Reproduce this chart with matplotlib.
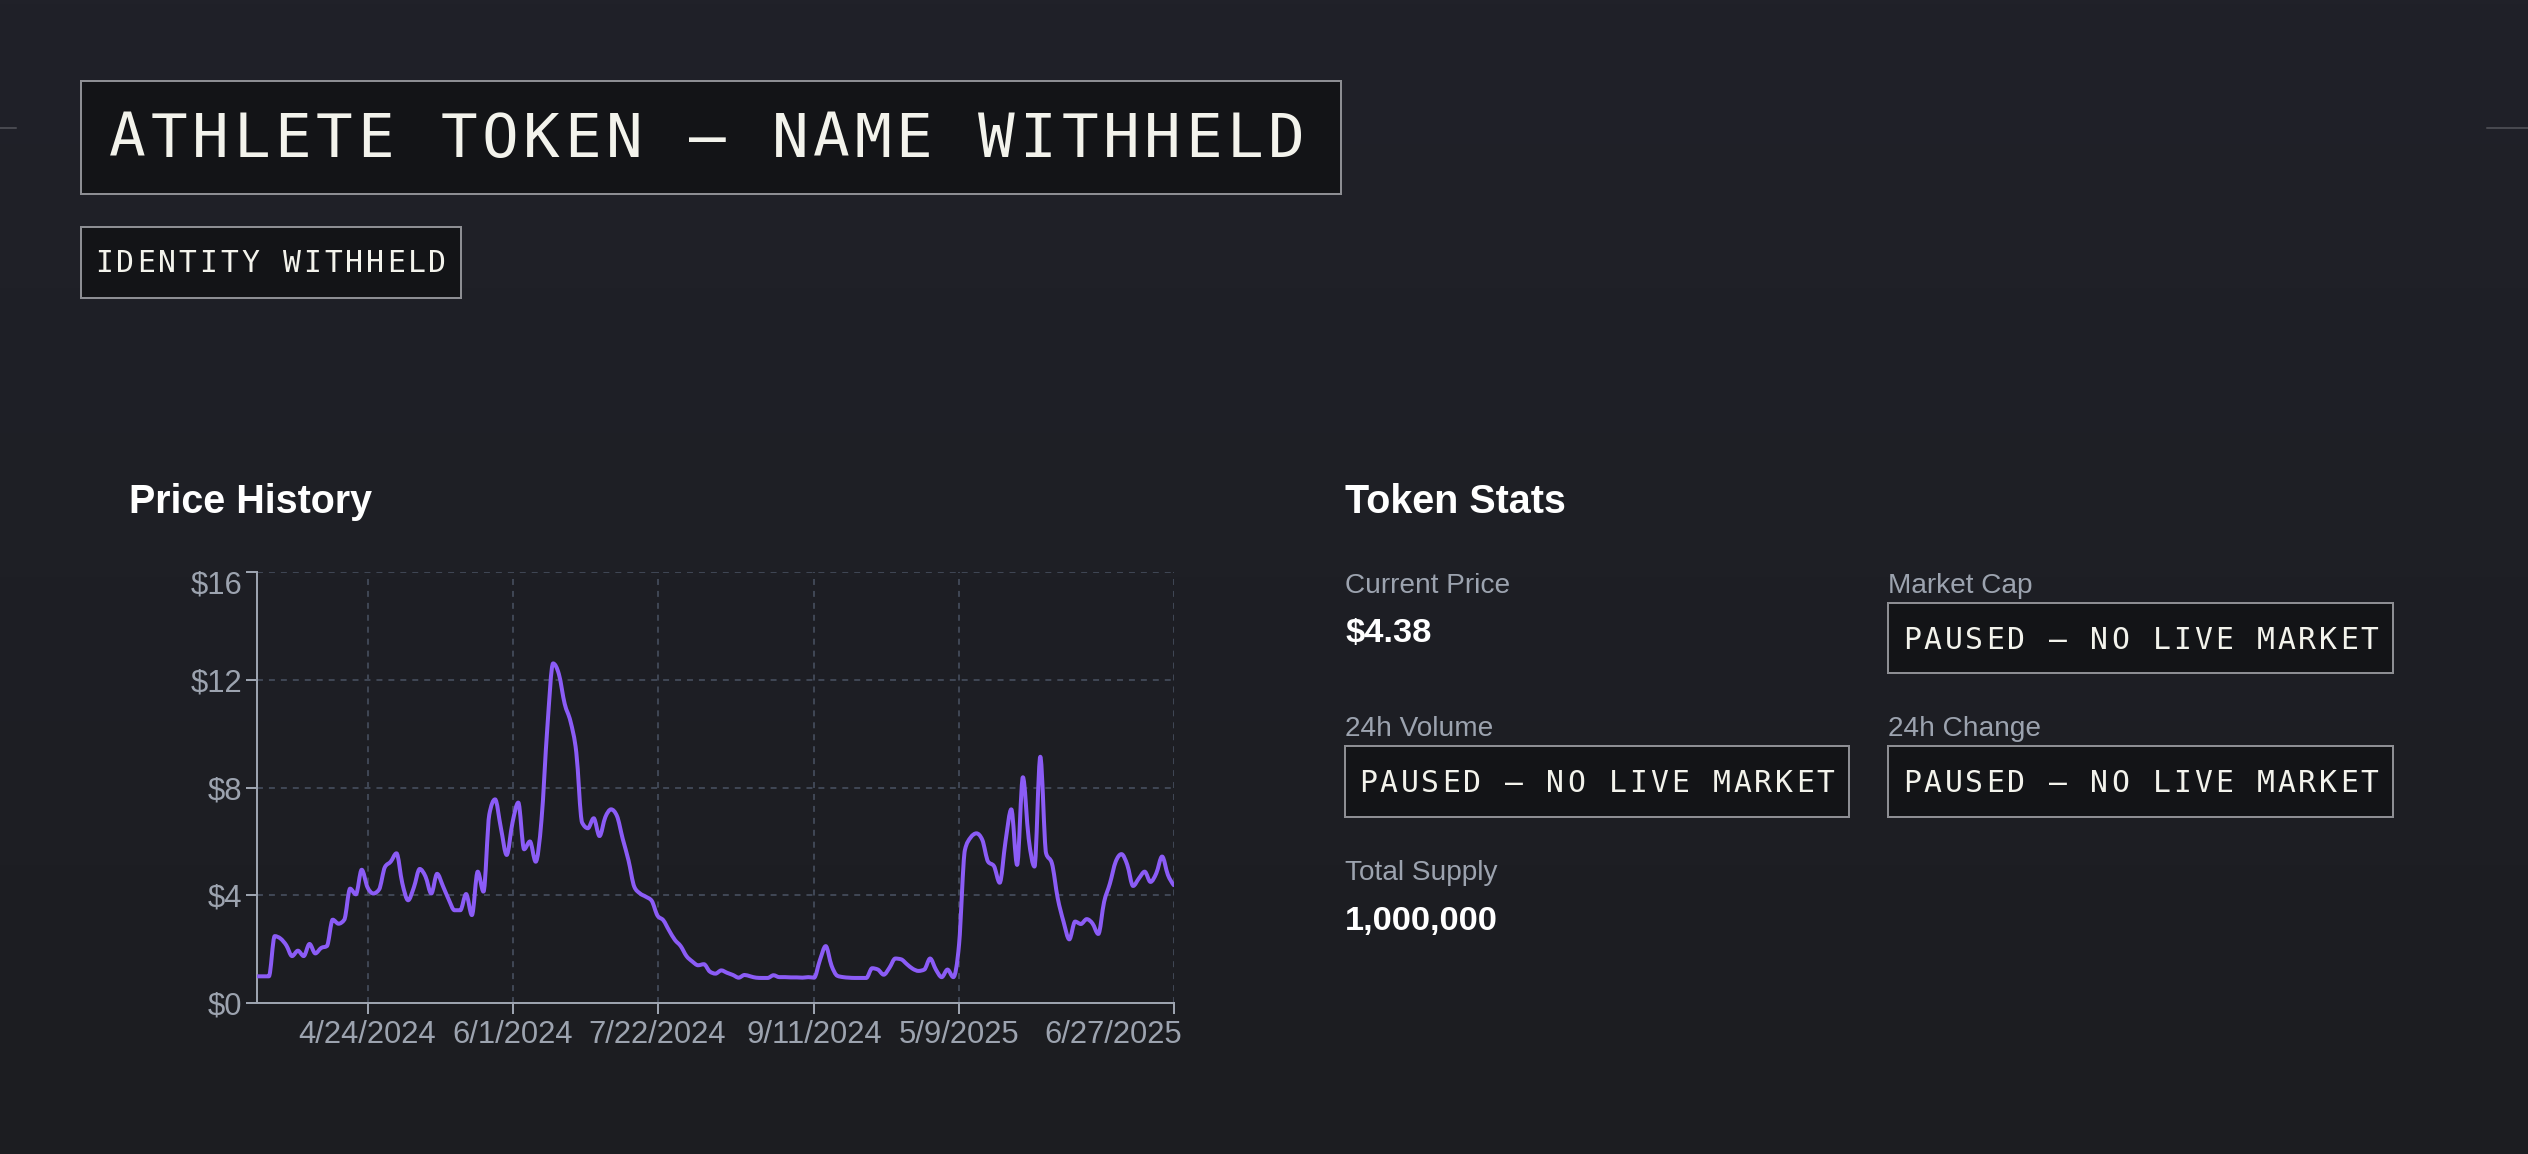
import numpy as np
import matplotlib
matplotlib.use("Agg")
import matplotlib.pyplot as plt
from matplotlib.path import Path
from matplotlib.patches import PathPatch, Rectangle
from matplotlib.colors import LinearSegmentedColormap
from matplotlib.transforms import ScaledTranslation

# price history, one value per point
prices = [
    1.0, 1.0, 1.0, 2.49, 2.4, 2.15, 1.75, 1.95, 1.75, 2.2,
    1.85, 2.05, 2.12, 3.1, 2.95, 3.1, 4.25, 4.04, 4.95, 4.3,
    4.07, 4.22, 5.05, 5.25, 5.56, 4.45, 3.82, 4.3, 4.98, 4.7,
    4.07, 4.8, 4.35, 3.85, 3.45, 3.45, 4.05, 3.27, 4.88, 4.14,
    7.0, 7.56, 6.5, 5.5, 6.7, 7.44, 5.71, 6.0, 5.25, 6.8,
    10.2, 12.6, 12.2, 11.1, 10.45, 9.3, 6.7, 6.49, 6.86, 6.2,
    6.9, 7.19, 6.95, 6.1, 5.3, 4.32, 4.07, 3.95, 3.8, 3.25,
    3.08, 2.7, 2.35, 2.12, 1.75, 1.55, 1.41, 1.45, 1.18, 1.1,
    1.22, 1.13, 1.05, 0.95, 1.05, 1.0, 0.95, 0.94, 0.94, 1.04,
    0.97, 0.97, 0.96, 0.96, 0.95, 0.97, 0.95, 1.6, 2.12, 1.4,
    1.02, 0.97, 0.95, 0.94, 0.94, 0.94, 1.3, 1.25, 1.06, 1.32,
    1.66, 1.63, 1.45, 1.28, 1.2, 1.25, 1.66, 1.25, 0.97, 1.25,
    0.97, 2.2, 5.68, 6.15, 6.3, 6.06, 5.25, 5.09, 4.47, 6.0,
    7.19, 5.13, 8.38, 6.1, 5.07, 9.14, 5.56, 5.19, 3.9, 3.03,
    2.37, 3.03, 2.94, 3.12, 2.96, 2.57, 3.76, 4.44, 5.25, 5.53,
    5.13, 4.35, 4.63, 4.88, 4.5, 4.82, 5.44, 4.76, 4.38,
]
tick_idx = [19, 44, 69, 96, 121, 158]
tick_labels = ["4/24/2024", "6/1/2024", "7/22/2024", "9/11/2024", "5/9/2025", "6/27/2025"]
y_ticks = [0, 4, 8, 12, 16]

title = "ATHLETE TOKEN — NAME WITHHELD"
badge = "IDENTITY WITHHELD"
paused = "PAUSED — NO LIVE MARKET"
current_price = "$4.38"
total_supply = "1,000,000"

W, H = 2528, 1154
PX = 72 / 100  # points per pixel at dpi 100

plt.rcParams["lines.scale_dashes"] = False
plt.rcParams["font.family"] = ["Liberation Sans", "DejaVu Sans"]

BG_TOP, BG_BOT = "#202129", "#1c1d21"
BOX_FILL, BOX_EDGE = "#131417", "#8d8e93"
GRAY = "#9ca3af"
WHITE = "#ffffff"
MONO_WHITE = "#f3f3ec"
PURPLE = "#8b5cf6"

fig = plt.figure(figsize=(W / 100, H / 100), dpi=100)

# page layer in pixel coordinates (y down)
page = fig.add_axes([0, 0, 1, 1])
page.set_xlim(0, W)
page.set_ylim(H, 0)
page.axis("off")
bg = LinearSegmentedColormap.from_list("bg", [BG_TOP, BG_BOT])
page.imshow(np.linspace(0, 1, 256).reshape(-1, 1), extent=[0, W, H, 0],
            cmap=bg, aspect="auto", zorder=0)
page.plot([0, 16], [128, 128], color="#55565c", lw=1.5 * PX)
page.plot([2487, W], [128, 128], color="#55565c", lw=1.5 * PX)


def box(x0, y0, x1, y1):
    page.add_patch(Rectangle((x0, y0), x1 - x0, y1 - y0, facecolor=BOX_FILL,
                             edgecolor=BOX_EDGE, lw=2 * PX, zorder=1))


def mono(x, y, s, size, pitch):
    # monospace text with letter spacing
    for k, ch in enumerate(s):
        page.text(x + k * pitch, y, ch, fontsize=size * PX, family="DejaVu Sans Mono",
                  color=MONO_WHITE, ha="left", va="baseline", zorder=2)


def sans(x, y, s, size, color, bold=False):
    page.text(x, y, s, fontsize=size * PX, color=color, ha="left", va="baseline",
              fontweight="bold" if bold else "normal", zorder=2)


box(80.5, 80.5, 1341, 193.5)
mono(109, 156.7, title, 61, 41.4)
box(80.5, 227, 461, 297.5)
mono(95.5, 271.7, badge, 29.8, 20.8)

sans(129, 513, "Price History", 39.5, WHITE, bold=True)
sans(1345, 513, "Token Stats", 39.5, WHITE, bold=True)

sans(1345, 592.7, "Current Price", 28, GRAY)
sans(1345, 641.7, current_price, 34.5, WHITE, bold=True)
sans(1888, 592.7, "Market Cap", 28, GRAY)
box(1888, 602.5, 2393, 673.3)
mono(1903, 649, paused, 29.8, 20.8)

sans(1345, 736, "24h Volume", 28, GRAY)
box(1345, 746, 1849, 817.3)
mono(1359, 792.3, paused, 29.8, 20.8)
sans(1888, 736, "24h Change", 28, GRAY)
box(1888, 746, 2393, 817.3)
mono(1903, 792.3, paused, 29.8, 20.8)

sans(1345, 880, "Total Supply", 28, GRAY)
sans(1345, 930, total_supply, 34.5, WHITE, bold=True)

# chart
ax = fig.add_axes([257.3 / W, 1 - 1003.3 / H, (1173.7 - 257.3) / W, (1003.3 - 571.7) / H])
ax.set_facecolor("none")
ax.set_zorder(3)
n = len(prices)
ax.set_xlim(0, n - 1)
ax.set_ylim(0, 16)
ax.set_xticks(tick_idx)
ax.set_xticklabels(tick_labels)
ax.set_yticks(y_ticks)
ax.set_yticklabels([f"${v}" for v in y_ticks])
ax.grid(True, color="#3f4654", lw=2 * PX, linestyle=(0, (4.3, 4.3)))
ax.set_axisbelow(True)
for side in ["top", "right"]:
    ax.spines[side].set_visible(False)
for side in ["left", "bottom"]:
    ax.spines[side].set_color(GRAY)
    ax.spines[side].set_linewidth(2 * PX)
ax.tick_params(axis="both", length=11 * PX, width=2 * PX, color=GRAY,
               labelcolor=GRAY, labelsize=31 * PX)
ax.tick_params(axis="y", pad=3)
ax.tick_params(axis="x", pad=4)
last = ax.get_xticklabels()[-1]
last.set_horizontalalignment("right")
last.set_transform(last.get_transform() + ScaledTranslation(8 / 100, 0, fig.dpi_scale_trans))
top = ax.get_yticklabels()[-1]
top.set_transform(top.get_transform() + ScaledTranslation(0, -10 / 100, fig.dpi_scale_trans))

# monotone-x curve, like the web chart draws it
xs = np.arange(n, dtype=float)
ys = np.array(prices, dtype=float)
s = np.diff(ys)
t = np.zeros(n)
for i in range(1, n - 1):
    p = (s[i - 1] + s[i]) / 2
    t[i] = (np.sign(s[i - 1]) + np.sign(s[i])) * min(abs(s[i - 1]), abs(s[i]), 0.5 * abs(p))
t[0] = (3 * s[0] - t[1]) / 2
t[-1] = (3 * s[-1] - t[-2]) / 2
verts = [(xs[0], ys[0])]
codes = [Path.MOVETO]
for i in range(n - 1):
    d = 1 / 3
    verts += [(xs[i] + d, ys[i] + d * t[i]), (xs[i + 1] - d, ys[i + 1] - d * t[i + 1]),
              (xs[i + 1], ys[i + 1])]
    codes += [Path.CURVE4] * 3
ax.add_patch(PathPatch(Path(verts, codes), facecolor="none", edgecolor=PURPLE,
                       lw=4 * PX, joinstyle="round", capstyle="round", zorder=3))

fig.savefig("out.png", dpi=100, facecolor=BG_TOP)
